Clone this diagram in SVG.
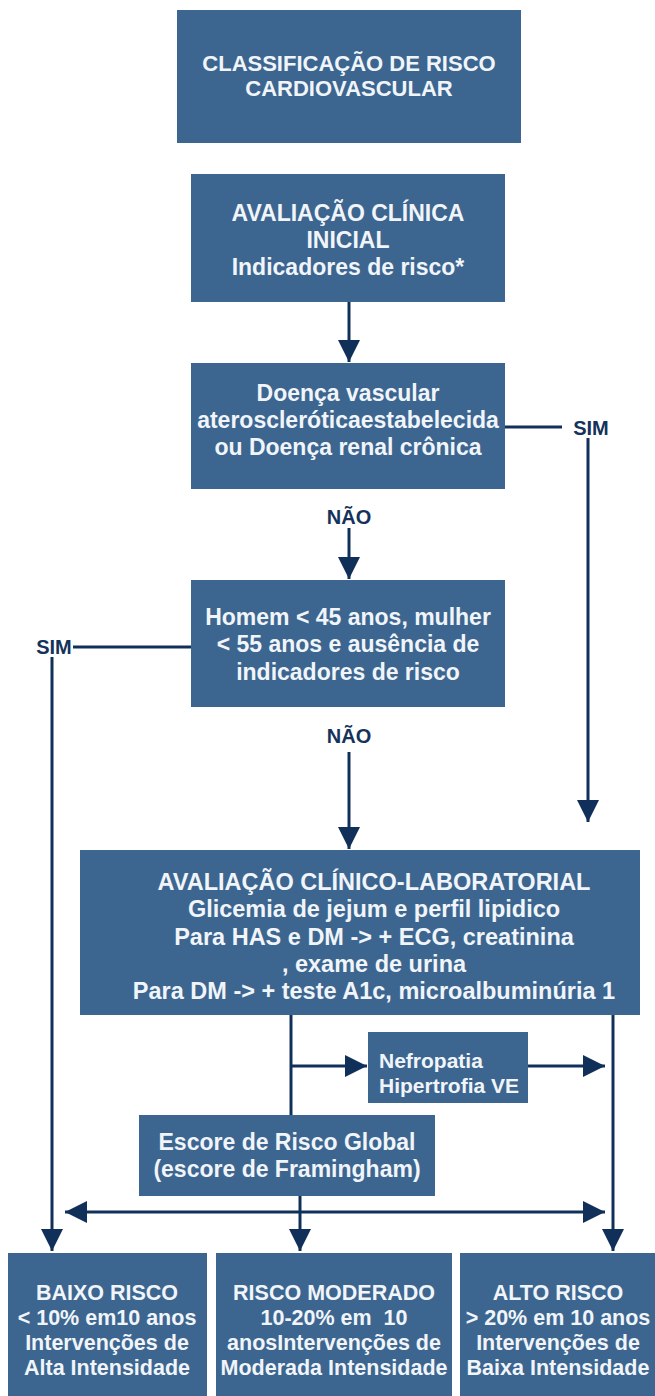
<svg xmlns="http://www.w3.org/2000/svg" width="655" height="1396" viewBox="0 0 655 1396">
<defs>
<marker id="ah" viewBox="0 0 10 10" refX="10" refY="5" markerWidth="22" markerHeight="22" markerUnits="userSpaceOnUse" orient="auto-start-reverse"><path d="M0,0 L10,5 L0,10 z" fill="#10305a"/></marker>
<style>
.box{fill:#3c6690;}
.t{font-family:"Liberation Sans",Arial,sans-serif;font-weight:700;fill:#f1f5f9;text-anchor:middle;font-size:23px;}
.h{font-size:22px;}
.b5{font-size:23.5px;}
.s{font-size:21.5px;}
.l{text-anchor:start;font-size:21px;}
.lbl{font-family:"Liberation Sans",Arial,sans-serif;font-weight:700;fill:#14325a;font-size:20px;text-anchor:middle;}
.c{stroke:#10305a;stroke-width:3;fill:none;}
.a{marker-end:url(#ah);}
</style>
</defs>
<rect width="655" height="1396" fill="#ffffff"/>
<g id="connectors">
<path class="c a" d="M349,302 V362"/>
<path class="c" d="M505,427 H562"/>
<path class="c a" d="M588,438 V822"/>
<path class="c a" d="M349,528 V579"/>
<path class="c" d="M191,647 H73"/>
<path class="c a" d="M52,657 V1251"/>
<path class="c a" d="M349,752 V849"/>
<path class="c" d="M291,1015 V1115"/>
<path class="c a" d="M291,1066 H367"/>
<path class="c a" d="M528,1066 H605"/>
<path class="c a" d="M613,1015 V1251"/>
<path class="c a" d="M300,1196 V1251"/>
<path class="c a" d="M65,1212 H605" marker-start="url(#ah)"/>
<text class="lbl" x="591" y="435">SIM</text>
<text class="lbl" x="349" y="524">NÃO</text>
<text class="lbl" x="54" y="654">SIM</text>
<text class="lbl" x="349" y="743">NÃO</text>
</g>
<g id="n1">
<rect class="box" x="177" y="10" width="344" height="133"/>
<text class="t h"><tspan x="349" y="71">CLASSIFICAÇÃO DE RISCO</tspan><tspan x="349" y="96">CARDIOVASCULAR</tspan></text>
</g>
<g id="n2">
<rect class="box" x="191" y="174" width="314" height="128"/>
<text class="t"><tspan x="348" y="221">AVALIAÇÃO CLÍNICA</tspan><tspan x="348" y="248">INICIAL</tspan><tspan x="348" y="275">Indicadores de risco*</tspan></text>
</g>
<g id="n3">
<rect class="box" x="191" y="363" width="314" height="126"/>
<text class="t"><tspan x="348" y="401">Doença vascular</tspan><tspan x="348" y="428">ateroscleróticaestabelecida</tspan><tspan x="348" y="455">ou Doença renal crônica</tspan></text>
</g>
<g id="n4">
<rect class="box" x="191" y="580" width="314" height="127"/>
<text class="t"><tspan x="348" y="625">Homem &lt; 45 anos, mulher</tspan><tspan x="348" y="652">&lt; 55 anos e ausência de</tspan><tspan x="348" y="680">indicadores de risco</tspan></text>
</g>
<g id="n5">
<rect class="box" x="80" y="850" width="560" height="165"/>
<text class="t b5"><tspan x="374" y="890">AVALIAÇÃO CLÍNICO-LABORATORIAL</tspan><tspan x="374" y="917">Glicemia de jejum e perfil lipidico</tspan><tspan x="374" y="945">Para HAS e DM -&gt; + ECG, creatinina</tspan><tspan x="374" y="972">, exame de urina</tspan><tspan x="374" y="999">Para DM -&gt; + teste A1c, microalbuminúria 1</tspan></text>
</g>
<g id="n6">
<rect class="box" x="368" y="1032" width="160" height="71"/>
<text class="t l"><tspan x="379" y="1068">Nefropatia</tspan><tspan x="379" y="1093">Hipertrofia VE</tspan></text>
</g>
<g id="n7">
<rect class="box" x="139" y="1115" width="296" height="81"/>
<text class="t"><tspan x="287" y="1150">Escore de Risco Global</tspan><tspan x="287" y="1177">(escore de Framingham)</tspan></text>
</g>
<g id="n8">
<rect class="box" x="8" y="1253" width="199" height="143"/>
<text class="t s"><tspan x="107" y="1300">BAIXO RISCO</tspan><tspan x="107" y="1325">&lt; 10% em10 anos</tspan><tspan x="107" y="1350">Intervenções de</tspan><tspan x="107" y="1375">Alta Intensidade</tspan></text>
</g>
<g id="n9">
<rect class="box" x="216" y="1253" width="236" height="143"/>
<text class="t s" xml:space="preserve"><tspan x="334" y="1300">RISCO MODERADO</tspan><tspan x="334" y="1325">10-20% em  10</tspan><tspan x="334" y="1350">anosIntervenções de</tspan><tspan x="334" y="1375">Moderada Intensidade</tspan></text>
</g>
<g id="n10">
<rect class="box" x="460" y="1253" width="195" height="143"/>
<text class="t s"><tspan x="558" y="1300">ALTO RISCO</tspan><tspan x="558" y="1325">&gt; 20% em 10 anos</tspan><tspan x="558" y="1350">Intervenções de</tspan><tspan x="558" y="1375">Baixa Intensidade</tspan></text>
</g>
</svg>
